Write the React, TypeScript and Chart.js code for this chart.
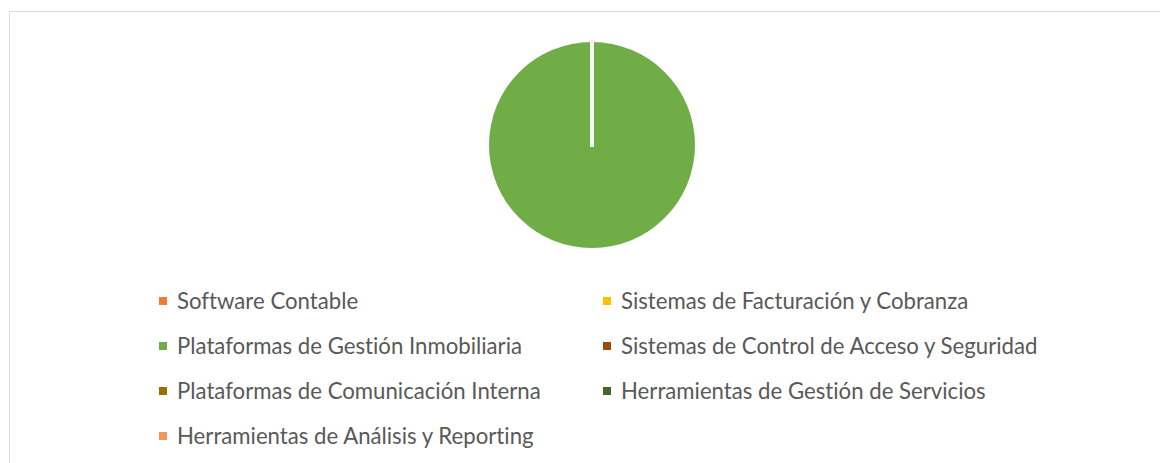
import React, { useEffect, useRef } from "react";
import { Chart, registerables } from "chart.js";

Chart.register(...registerables);

const categories: string[] = [
  "Software Contable",
  "Sistemas de Facturación y Cobranza",
  "Plataformas de Gestión Inmobiliaria",
  "Sistemas de Control de Acceso y Seguridad",
  "Plataformas de Comunicación Interna",
  "Herramientas de Gestión de Servicios",
  "Herramientas de Análisis y Reporting",
];

const values: number[] = [0, 0, 1, 0, 0, 0, 0];

const colors: string[] = [
  "#ED7D31",
  "#FFC000",
  "#70AD47",
  "#9E480E",
  "#997300",
  "#43682B",
  "#F1975A",
];

const separatorPlugin = {
  id: "sliceSeparator",
  afterDatasetsDraw(chart: any) {
    const meta = chart.getDatasetMeta(0);
    const ctx = chart.ctx;
    ctx.save();
    ctx.strokeStyle = "#FFFFFF";
    ctx.lineWidth = 3.5;
    ctx.lineCap = "butt";
    meta.data.forEach((arc: any, i: number) => {
      if (!values[i]) return;
      const { x, y, outerRadius, startAngle, endAngle } = arc.getProps(
        ["x", "y", "outerRadius", "startAngle", "endAngle"],
        true
      );
      [startAngle, endAngle].forEach((a: number) => {
        ctx.beginPath();
        ctx.moveTo(x, y + 2);
        ctx.lineTo(x + (outerRadius + 2) * Math.cos(a), y + (outerRadius + 2) * Math.sin(a));
        ctx.stroke();
      });
    });
    ctx.restore();
  },
};

function PieChart() {
  const ref = useRef<HTMLCanvasElement | null>(null);
  useEffect(() => {
    if (!ref.current) return;
    const chart = new Chart(ref.current, {
      type: "pie",
      data: {
        labels: categories,
        datasets: [
          {
            data: values,
            backgroundColor: colors,
            borderWidth: 0,
          },
        ],
      },
      options: {
        animation: false,
        responsive: true,
        maintainAspectRatio: false,
        radius: 103,
        layout: { padding: 0 },
        plugins: {
          legend: { display: false },
          tooltip: { enabled: false },
        },
      },
      plugins: [separatorPlugin],
    });
    return () => chart.destroy();
  }, []);
  return <canvas ref={ref} />;
}

export default function App() {
  const font = "Lato, 'Noto Sans', sans-serif";
  return (
    <div
      style={{
        position: "fixed",
        left: 0,
        top: 0,
        width: 1160,
        height: 463,
        background: "#FFFFFF",
        overflow: "hidden",
      }}
    >
      <div
        style={{
          position: "absolute",
          left: 9,
          top: 11,
          width: 1200,
          height: 500,
          border: "1px solid #D9D9D9",
          boxSizing: "border-box",
        }}
      />
      <div
        style={{
          position: "absolute",
          left: 482,
          top: 35,
          width: 220,
          height: 220,
        }}
      >
        <PieChart />
      </div>
      {categories.map((c, i) => {
        const col = i % 2;
        const row = Math.floor(i / 2);
        return (
          <div
            key={c}
            style={{
              position: "absolute",
              left: 159 + col * 444,
              top: 301 + row * 45 - 15,
              height: 30,
              display: "flex",
              alignItems: "center",
              whiteSpace: "nowrap",
            }}
          >
            <span
              style={{
                display: "inline-block",
                width: 8,
                height: 8,
                background: colors[i],
                marginRight: 10,
              }}
            />
            <span
              style={{
                fontFamily: font,
                fontSize: 22.2,
                color: "#595959",
                lineHeight: "30px",
                fontVariantLigatures: "none",
              }}
            >
              {c}
            </span>
          </div>
        );
      })}
    </div>
  );
}
